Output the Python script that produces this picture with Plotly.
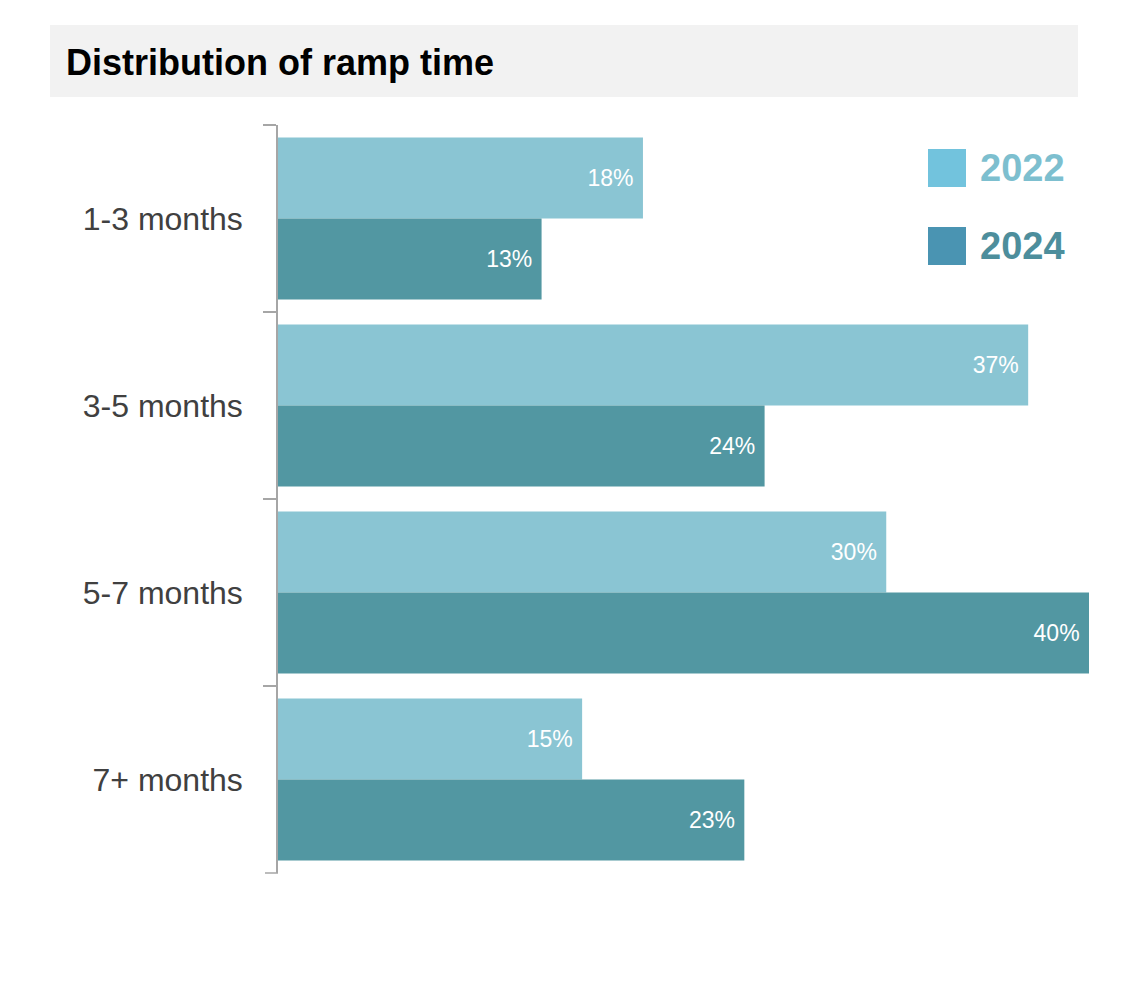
import plotly.graph_objects as go

categories = ["1-3 months", "3-5 months", "5-7 months", "7+ months"]
years = ["2022", "2024"]
share_2022 = [18, 37, 30, 15]
share_2024 = [13, 24, 40, 23]

W, H = 1134, 988
OFF = 8  # page body margin shifts everything by 8px
L, R, T, B = 278 - OFF, 45 + OFF, 125 - OFF, 115 + OFF
FONT = "Liberation Sans, Arial, sans-serif"
AXIS_GREY = "#a6a6a6"

bar_colors = ["#8ac5d3", "#5297a2"]
legend_box = ["#72c3dd", "#4a94b2"]
legend_text = ["#7dbfcf", "#4d8e9c"]


# pixel (as seen on the page) -> paper helpers for the decorations
def px(x):
    return (x - OFF - L) / (W - L - R)


def py(y):
    return (H - B - (y - OFF)) / (H - T - B)


fig = go.Figure()
for yr, vals, col in zip(years, [share_2022, share_2024], bar_colors):
    fig.add_trace(go.Bar(
        y=categories, x=vals, name=yr, orientation="h",
        marker=dict(color=col, line=dict(width=0)),
        texttemplate="%{x}%\u00a0", textposition="inside", insidetextanchor="end",
        textfont=dict(color="white", size=23, family=FONT),
        showlegend=False,
    ))

# title band
fig.add_shape(type="rect", xref="paper", yref="paper",
              x0=px(50), x1=px(1078), y0=py(97), y1=py(25),
              fillcolor="#f2f2f2", line=dict(width=0), layer="below")
fig.add_annotation(text="<b>Distribution of ramp time</b>", xref="paper", yref="paper",
                   x=px(64), y=py(63), xanchor="left", yanchor="middle", showarrow=False,
                   font=dict(size=36, color="black", family=FONT))

# closing tick at the bottom of the category axis
fig.add_shape(type="line", xref="paper", yref="paper",
              x0=px(265), x1=0, y0=0, y1=0,
              line=dict(color=AXIS_GREY, width=1.5))

# legend drawn by hand (boxes and labels use their own colours)
for i, yr in enumerate(years):
    top = 149 + i * 78
    fig.add_shape(type="rect", xref="paper", yref="paper",
                  x0=px(928), x1=px(966), y0=py(top + 38), y1=py(top),
                  fillcolor=legend_box[i], line=dict(width=0))
    fig.add_annotation(text="<b>%s</b>" % yr, xref="paper", yref="paper",
                       x=px(978), y=py(top + 19), xanchor="left", yanchor="middle",
                       showarrow=False, font=dict(size=38, color=legend_text[i], family=FONT))

fig.update_layout(
    width=W, height=H,
    margin=dict(l=L, r=R, t=T, b=B, autoexpand=False),
    barmode="group", bargap=0.134, bargroupgap=0,
    plot_bgcolor="white", paper_bgcolor="white",
    font=dict(family=FONT),
)
fig.update_xaxes(visible=False, range=[0, 40], fixedrange=True)
fig.update_yaxes(
    type="category", categoryorder="array", categoryarray=categories,
    autorange="reversed", showgrid=False, zeroline=False,
    showline=True, linecolor=AXIS_GREY, linewidth=1.5,
    ticks="outside", tickson="boundaries", ticklen=13, tickwidth=1.5, tickcolor=AXIS_GREY,
    ticklabelstandoff=27,
    tickfont=dict(size=32, color="#404040", family=FONT),
)

fig.write_html("out.html")
